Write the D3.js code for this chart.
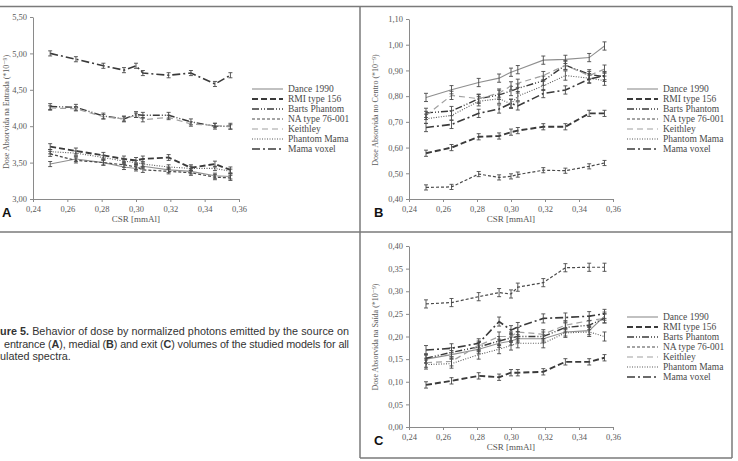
<!DOCTYPE html>
<html><head><meta charset="utf-8">
<script src="https://cdn.jsdelivr.net/npm/d3@7"></script>
<style>
html,body{margin:0;padding:0;background:#fff;}
svg{display:block;}
</style></head>
<body>
<svg id="chart" width="738" height="461"></svg>
<script>
// ---------- data ----------
const xVals = [0.250, 0.265, 0.281, 0.293, 0.300, 0.304, 0.319, 0.332, 0.346, 0.355];
const seriesNames = ["Dance 1990","RMI type 156","Barts Phantom","NA type 76-001","Keithley","Phantom Mama","Mama voxel"];

const xTickVals = [0.24,0.26,0.28,0.30,0.32,0.34,0.36];
const xTickLabels = ["0,24","0,26","0,28","0,30","0,32","0,34","0,36"];

// Panel A - entrance
const danceA = [3.48,3.55,3.50,3.44,3.42,3.45,3.40,3.38,3.32,3.31];
const rmiA   = [3.72,3.66,3.60,3.55,3.53,3.55,3.57,3.43,3.48,3.40];
const bartsA = [4.27,4.26,4.14,4.10,4.16,4.15,4.15,4.06,4.00,4.00];
const naA    = [3.62,3.53,3.50,3.47,3.44,3.40,3.38,3.36,3.30,3.29];
const keithA = [4.25,4.24,4.13,4.10,4.15,4.09,4.12,4.03,4.01,3.99];
const mamaA  = [3.65,3.63,3.57,3.52,3.50,3.48,3.44,3.42,3.42,3.38];
const voxelA = [5.00,4.92,4.83,4.77,4.83,4.73,4.70,4.73,4.58,4.70];
const errA   = [0.035,0.04,0.04,0.035,0.03,0.03,0.035];
const yTickValsA = [3.0,3.5,4.0,4.5,5.0,5.5];
const yTickLabelsA = ["3,00","3,50","4,00","4,50","5,00","5,50"];

// Panel B - centre
const danceB = [0.795,0.825,0.853,0.870,0.893,0.903,0.940,0.943,0.950,0.995];
const rmiB   = [0.578,0.600,0.642,0.645,0.660,0.666,0.681,0.681,0.733,0.733];
const bartsB = [0.735,0.742,0.790,0.805,0.820,0.830,0.860,0.920,0.885,0.875];
const naB    = [0.445,0.447,0.497,0.484,0.488,0.495,0.512,0.510,0.527,0.540];
const keithB = [0.725,0.803,0.790,0.812,0.840,0.850,0.880,0.920,0.880,0.905];
const mamaB  = [0.712,0.725,0.780,0.790,0.770,0.800,0.840,0.880,0.870,0.860];
const voxelB = [0.678,0.690,0.733,0.750,0.772,0.762,0.810,0.824,0.866,0.880];
const errB   = [0.016,0.012,0.018,0.010,0.016,0.018,0.016];
const yTickValsB = [0.4,0.5,0.6,0.7,0.8,0.9,1.0,1.1];
const yTickLabelsB = ["0,40","0,50","0,60","0,70","0,80","0,90","1,00","1,10"];

// Panel C - exit
const danceC = [0.150,0.160,0.172,0.185,0.190,0.195,0.195,0.210,0.213,0.245];
const rmiC   = [0.093,0.102,0.113,0.110,0.120,0.120,0.122,0.144,0.144,0.153];
const bartsC = [0.152,0.165,0.177,0.190,0.197,0.200,0.200,0.220,0.225,0.240];
const naC    = [0.272,0.275,0.288,0.297,0.294,0.309,0.319,0.352,0.353,0.353];
const keithC = [0.142,0.145,0.180,0.200,0.200,0.210,0.205,0.225,0.235,0.240];
const mamaC  = [0.138,0.140,0.160,0.172,0.180,0.185,0.185,0.208,0.210,0.200];
const voxelC = [0.170,0.174,0.185,0.233,0.214,0.221,0.240,0.242,0.245,0.250];
const errC   = [0.009,0.007,0.010,0.009,0.010,0.010,0.010];
const yTickValsC = [0,0.05,0.10,0.15,0.20,0.25,0.30,0.35,0.40];
const yTickLabelsC = ["0,00","0,05","0,10","0,15","0,20","0,25","0,30","0,35","0,40"];

const captionLines = [
  "ure 5. Behavior of dose by normalized photons emitted by the source on",
  "entrance (A), medial (B) and exit (C) volumes of the studied models for all",
  "ulated spectra."
];

// ---------- styles ----------
const styles = [
  {color:"#8f8f8f", width:1.1, dash:null},              // Dance 1990
  {color:"#3a3a3a", width:1.9, dash:"6,3"},             // RMI
  {color:"#3a3a3a", width:1.4, dash:"7,2,1,2,1,2"},     // Barts
  {color:"#4a4a4a", width:1.2, dash:"3,2"},             // NA
  {color:"#a0a0a0", width:1.2, dash:"6,4"},             // Keithley
  {color:"#5a5a5a", width:1.1, dash:"1,1.5"},           // Phantom Mama
  {color:"#3a3a3a", width:1.6, dash:"8,3,2,3"}          // Mama voxel
];

const svg = d3.select("#chart");
const serif = "'Liberation Serif','DejaVu Serif',serif";
const sans = "'Liberation Sans',Arial,sans-serif";

// frame lines
const frame = svg.append("g").attr("stroke","#7a7a7a").attr("stroke-width",1.5).attr("fill","none");
frame.append("line").attr("x1",0).attr("x2",732).attr("y1",6.5).attr("y2",6.5);
frame.append("line").attr("x1",0).attr("x2",732).attr("y1",232).attr("y2",232);
frame.append("line").attr("x1",360).attr("x2",360).attr("y1",6).attr("y2",458);
frame.append("line").attr("x1",732).attr("x2",732).attr("y1",6).attr("y2",458);
frame.append("line").attr("x1",360).attr("x2",732).attr("y1",458).attr("y2",458);

function drawPanel(cfg){
  const g = svg.append("g");
  const x = d3.scaleLinear().domain([0.24,0.36]).range([cfg.x0, cfg.x1]);
  const y = d3.scaleLinear().domain(cfg.yDomain).range([cfg.y0, cfg.y1]);

  const xAxis = d3.axisBottom(x).tickValues(xTickVals).tickSize(3).tickSizeOuter(0)
      .tickFormat((d,i)=>xTickLabels[i]);
  const yAxis = d3.axisLeft(y).tickValues(cfg.yTicks).tickSize(3).tickSizeOuter(0)
      .tickFormat((d,i)=>cfg.yLabels[i]);

  const gx = g.append("g").attr("transform",`translate(0,${cfg.y0})`).call(xAxis);
  const gy = g.append("g").attr("transform",`translate(${cfg.x0},0)`).call(yAxis);
  [gx,gy].forEach(a=>{
    a.select(".domain").attr("stroke","#8a8a8a").attr("stroke-width",1);
    a.selectAll(".tick line").attr("stroke","#8a8a8a");
    a.selectAll(".tick text").attr("fill","#5a5a5a").style("font-family",serif).style("font-size","8.5px");
  });
  gx.selectAll(".tick text").attr("dy","0.85em");

  // titles
  g.append("text").attr("x",(cfg.x0+cfg.x1)/2).attr("y",cfg.y0+23)
    .attr("text-anchor","middle").style("font-family",serif).style("font-size","9px").attr("fill","#555")
    .text("CSR [mmAl]");
  g.append("text").attr("transform",`translate(${cfg.ytX},${cfg.ytY}) rotate(-90)`)
    .attr("text-anchor","middle").style("font-family",serif).style("font-size","8px").attr("fill","#5a5a5a")
    .text(cfg.yTitle);
  g.append("text").attr("x",cfg.letterX).attr("y",cfg.letterY)
    .style("font-family",sans).style("font-weight","bold").style("font-size","13px").attr("fill","#111")
    .text(cfg.letter);

  const line = d3.line().x(d=>x(d[0])).y(d=>y(d[1]));
  cfg.data.forEach((vals,si)=>{
    const pts = xVals.map((xv,i)=>[xv, vals[i]]);
    const st = styles[si];
    g.append("path").datum(pts).attr("d",line).attr("fill","none")
      .attr("stroke",st.color).attr("stroke-width",st.width)
      .attr("stroke-dasharray",st.dash);
    const e = cfg.err[si];
    const eb = g.append("g").attr("stroke","#4a4a4a").attr("stroke-width",0.9);
    pts.forEach(p=>{
      const px = x(p[0]);
      eb.append("line").attr("x1",px).attr("x2",px).attr("y1",y(p[1]-e)).attr("y2",y(p[1]+e));
      eb.append("line").attr("x1",px-2).attr("x2",px+2).attr("y1",y(p[1]-e)).attr("y2",y(p[1]-e));
      eb.append("line").attr("x1",px-2).attr("x2",px+2).attr("y1",y(p[1]+e)).attr("y2",y(p[1]+e));
    });
  });

  // legend
  const lg = g.append("g");
  seriesNames.forEach((nm,i)=>{
    const st = styles[i];
    const yy = cfg.legY + i*10;
    lg.append("line").attr("x1",cfg.legX).attr("x2",cfg.legX+31).attr("y1",yy).attr("y2",yy)
      .attr("stroke",st.color).attr("stroke-width",st.width).attr("stroke-dasharray",st.dash);
    lg.append("text").attr("x",cfg.legX+36).attr("y",yy+3)
      .style("font-family",serif).style("font-size","9.5px").attr("fill","#4a4a4a").text(nm);
  });
}

drawPanel({x0:33,x1:239,y0:199,y1:17,yDomain:[3.0,5.5],yTicks:yTickValsA,yLabels:yTickLabelsA,
  yTitle:"Dose Absorvida na Entrada (*10\u207B\u2079)",ytX:9,ytY:112,letter:"A",letterX:2,letterY:217,
  data:[danceA,rmiA,bartsA,naA,keithA,mamaA,voxelA],err:errA,legX:252,legY:89});
drawPanel({x0:409,x1:613,y0:199,y1:19,yDomain:[0.4,1.1],yTicks:yTickValsB,yLabels:yTickLabelsB,
  yTitle:"Dose Absorvida no Centro (*10\u207B\u2079)",ytX:378,ytY:110,letter:"B",letterX:374,letterY:217,
  data:[danceB,rmiB,bartsB,naB,keithB,mamaB,voxelB],err:errB,legX:627,legY:89});
drawPanel({x0:409,x1:613,y0:427,y1:246,yDomain:[0,0.4],yTicks:yTickValsC,yLabels:yTickLabelsC,
  yTitle:"Dose Absorvida na Saída (*10\u207B\u2079)",ytX:378,ytY:337,letter:"C",letterX:374,letterY:445,
  data:[danceC,rmiC,bartsC,naC,keithC,mamaC,voxelC],err:errC,legX:627,legY:317});

// caption
const cap = svg.append("g").style("font-family",sans).style("font-size","10.8px").attr("fill","#333");
const t1 = cap.append("text").attr("x",0).attr("y",335).attr("textLength",349).attr("lengthAdjust","spacing");
t1.append("tspan").style("font-weight","bold").text(captionLines[0].slice(0,6));
t1.append("tspan").text(captionLines[0].slice(6));
const t2 = cap.append("text").attr("x",4).attr("y",347.5).attr("textLength",345).attr("lengthAdjust","spacing");
const parts = captionLines[1].split(/([ABC])/);
parts.forEach(p=>{
  const ts = t2.append("tspan").text(p);
  if(p==="A"||p==="B"||p==="C") ts.style("font-weight","bold");
});
cap.append("text").attr("x",0).attr("y",360).text(captionLines[2]);
</script>
</body></html>
